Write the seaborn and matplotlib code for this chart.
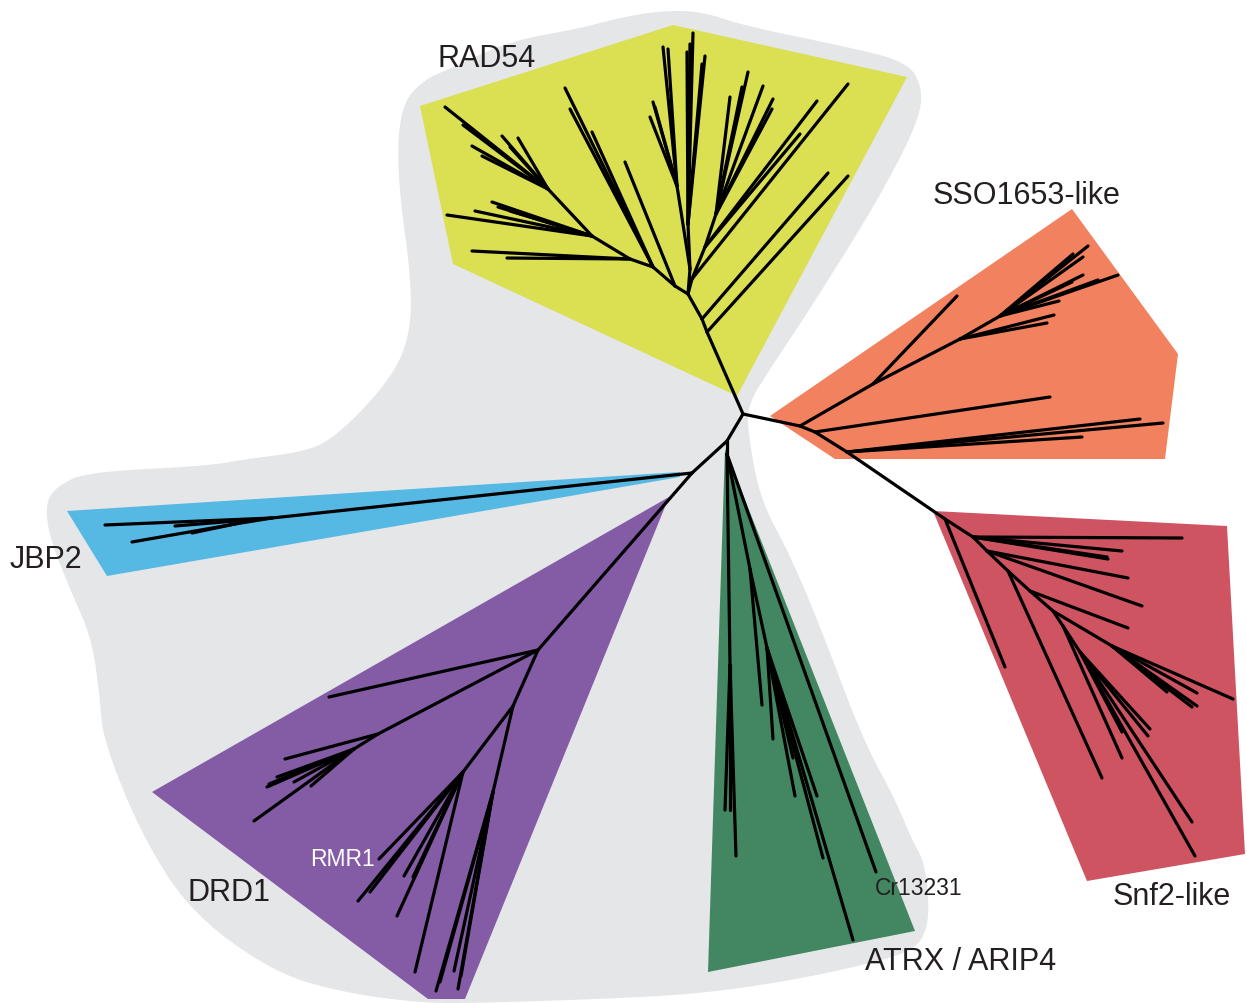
import numpy as np
import pandas as pd
import matplotlib
matplotlib.use("Agg")
import matplotlib.pyplot as plt
import seaborn as sns

# ---------------- data: unrooted tree (node, x, y, parent) in picture units ----------------
backbone_node = ["A", "B", "C", "S0"]
backbone_x = [743, 727, 692, 800]
backbone_y = [415, 442, 474, 427]
backbone_parent = [None, "A", "B", "A"]

rad54_node = ["Ra", "Rb", "R0", "ra1", "rb1",
              "L1", "L2", "L3", "L4", "L5", "l1",
              "l2a", "l2b", "l2c", "l3a", "l3b",
              "l4a", "l4b", "l4c", "l4d", "l4e",
              "l5a", "l5b", "l5c", "l5d", "l5e", "l5f", "l5g",
              "M0", "M1", "M2", "m1a", "m1b", "m1c", "m1d", "m1e",
              "m2a", "m2b", "m2c", "m2d", "m2e",
              "Q0", "Q1", "Q2", "q0a", "q1a", "q1b",
              "q2a", "q2b", "q2c", "q2d", "q2e", "q2f"]
rad54_x = [707, 702, 688, 848, 828,
           675, 653, 630, 592, 548, 625,
           565, 570, 592, 472, 507,
           447, 475, 492, 498, 510,
           445, 463, 472, 482, 502, 518, 510,
           690, 688, 677, 693, 690, 705, 702, 687,
           663, 668, 650, 653, 655,
           692, 705, 716, 848, 817, 800,
           748, 742, 730, 763, 773, 772]
rad54_y = [333, 320, 295, 177, 174,
           287, 268, 260, 237, 190, 163,
           89, 110, 133, 252, 259,
           216, 212, 203, 208, 212,
           108, 126, 147, 157, 137, 139, 148,
           270, 225, 187, 34, 45, 57, 65, 53,
           48, 50, 118, 103, 108,
           280, 248, 215, 85, 102, 135,
           73, 88, 98, 87, 100, 110]
rad54_parent = ["A", "Ra", "Rb", "Ra", "Rb",
                "R0", "L1", "L2", "L3", "L4", "L1",
                "L2", "L2", "L2", "L3", "L3",
                "L4", "L4", "L4", "L4", "L4",
                "L5", "L5", "L5", "L5", "L5", "L5", "L5",
                "R0", "M0", "M0", "M1", "M1", "M1", "M1", "M1",
                "M2", "M2", "M2", "M2", "M2",
                "R0", "Q0", "Q1", "Q0", "Q1", "Q1",
                "Q2", "Q2", "Q2", "Q2", "Q2", "Q2"]

sso_node = ["S1", "s1a", "S2", "s2a", "s2b", "S3",
            "s3a", "s3b", "s3c", "s3d", "s3e", "s3f", "s3g", "s3h",
            "S4", "s4a", "S5", "s5a", "s5b", "s5c"]
sso_x = [873, 957, 960, 1047, 1054, 1000,
         1088, 1083, 1073, 1083, 1118, 1098, 1059, 1072,
         815, 1050, 847, 1140, 1163, 1082]
sso_y = [385, 297, 340, 324, 316, 317,
         247, 258, 255, 276, 276, 281, 302, 283,
         433, 398, 453, 420, 424, 438]
sso_parent = ["S0", "S1", "S1", "S2", "S2", "S2",
              "S3", "S3", "S3", "S3", "S3", "S3", "S3", "S3",
              "S0", "S4", "S4", "S5", "S5", "S5"]

snf2_node = ["N0", "n0a", "N1", "n1a", "n1b", "n1c", "n1d", "N2", "n2a", "n2b",
             "N3", "n3a", "N4", "n4a", "N5", "N6", "n6a", "n6b", "n6c", "n6d", "n6e",
             "N7", "n7a", "N8", "n8a", "n8b", "n8c", "n8d", "n8e"]
snf2_x = [945, 1005, 973, 1182, 1122, 1108, 1107, 987, 1128, 1142,
          1008, 1102, 1030, 1128, 1053, 1112, 1233, 1197, 1197, 1192, 1167,
          1063, 1122, 1080, 1192, 1195, 1150, 1148, 1122]
snf2_y = [520, 668, 538, 539, 552, 560, 558, 552, 579, 607,
          572, 779, 592, 629, 612, 647, 700, 694, 707, 708, 693,
          627, 759, 653, 823, 857, 730, 737, 733]
snf2_parent = ["S5", "N0", "N0", "N1", "N1", "N1", "N1", "N1", "N2", "N2",
               "N2", "N3", "N3", "N4", "N4", "N5", "N6", "N6", "N6", "N6", "N6",
               "N5", "N7", "N7", "N8", "N8", "N8", "N8", "N8"]

atrx_node = ["G0", "G1", "g1a", "g1b", "g1c", "G2", "g2a", "G3",
             "g3a", "g3b", "g3c", "g3d", "g3e", "g3f", "cr13231"]
atrx_x = [727, 730, 725, 730, 736, 750, 762, 767,
          773, 793, 795, 817, 823, 853, 876]
atrx_y = [455, 666, 811, 811, 857, 570, 706, 649,
          740, 759, 797, 797, 859, 941, 873]
atrx_parent = ["B", "G0", "G1", "G1", "G1", "G0", "G2", "G2",
               "G3", "G3", "G3", "G3", "G3", "G3", "G0"]

jbp2_node = ["J1", "j1a", "j1b", "J2", "j2a", "j2b"]
jbp2_x = [272, 105, 175, 235, 132, 192]
jbp2_y = [519, 526, 527, 525, 543, 534]
jbp2_parent = ["C", "J1", "J1", "J1", "J2", "J2"]

drd1_node = ["D", "d0a", "D2", "D2a", "d2a", "d2b", "d2c", "d2d", "d2e", "d2f", "d2g",
             "D1", "D3", "d3a", "rmr1", "d3b", "d3c", "d3d", "d3e", "d3f",
             "D4", "d4a", "d4b", "d4c", "d4d", "d4e"]
drd1_x = [538, 329, 378, 354, 285, 269, 267, 277, 294, 311, 254,
          513, 463, 415, 379, 358, 370, 397, 404, 413,
          493, 458, 436, 440, 454, 461]
drd1_y = [651, 698, 735, 750, 760, 785, 788, 778, 783, 787, 822,
          707, 773, 973, 860, 902, 893, 917, 877, 878,
          793, 990, 992, 983, 972, 977]
drd1_parent = ["C", "D", "D", "D2", "D2", "D2a", "D2a", "D2a", "D2a", "D2a", "D2a",
               "D", "D1", "D3", "D3", "D3", "D3", "D3", "D3", "D3",
               "D1", "D4", "D4", "D4", "D4", "D4"]

# ---------------- clade shading ----------------
clade_names = ["RAD54", "SSO1653-like", "Snf2-like", "ATRX / ARIP4", "DRD1", "JBP2"]
clade_colors = ["#DAE052", "#F2825F", "#CE5461", "#438762", "#845BA5", "#55B9E3"]
rad54_hull_x = [420, 673, 907, 737, 453]
rad54_hull_y = [107, 26, 78, 397, 265]
sso_hull_x = [770, 1072, 1178, 1165, 835]
sso_hull_y = [417, 210, 355, 460, 460]
snf2_hull_x = [933, 1227, 1245, 1087]
snf2_hull_y = [512, 527, 855, 882]
atrx_hull_x = [725, 915, 708]
atrx_hull_y = [450, 932, 973]
drd1_hull_x = [669, 152, 428, 465]
drd1_hull_y = [498, 793, 1000, 1000]
jbp2_hull_x = [67, 680, 680, 107]
jbp2_hull_y = [512, 473, 478, 577]

bg_x = [420, 453, 510, 577, 623, 660, 700, 745, 843, 905, 922, 920, 877, 810, 770, 748,
        748, 760, 790, 820, 863, 895, 912, 924, 929, 927, 915, 880, 800, 700, 600, 480,
        420, 340, 273, 190, 140, 103, 100, 92, 70, 50, 45, 57, 87, 207, 247, 303, 333,
        380, 407, 413, 397, 400]
bg_y = [83, 68, 42, 30, 18, 12, 12, 27, 47, 62, 85, 120, 203, 310, 370, 405,
        434, 500, 556, 627, 741, 800, 841, 862, 902, 931, 950, 962, 980, 995, 1000, 1004,
        1004, 993, 973, 913, 833, 740, 700, 640, 590, 540, 505, 487, 473, 467, 460, 453, 440,
        393, 350, 293, 177, 110]

# label text, x, y, size, colour
label_text = ["RAD54", "SSO1653-like", "JBP2", "DRD1", "RMR1", "Cr13231", "ATRX / ARIP4", "Snf2-like"]
label_x = [438, 933, 10, 188, 310, 875, 865, 1113]
label_y = [59, 196, 560, 893, 860, 889, 962, 897]
label_size = [22, 22, 22, 22, 16.5, 16.5, 22, 22]
label_color = ["#231F20", "#231F20", "#231F20", "#231F20", "white", "#231F20", "#231F20", "#231F20"]

# ---------------- build segments ----------------
sns.set_theme(style="white")
plt.rcParams["font.family"] = ["Liberation Sans", "DejaVu Sans"]

groups = [(backbone_node, backbone_x, backbone_y, backbone_parent),
          (rad54_node, rad54_x, rad54_y, rad54_parent),
          (sso_node, sso_x, sso_y, sso_parent),
          (snf2_node, snf2_x, snf2_y, snf2_parent),
          (atrx_node, atrx_x, atrx_y, atrx_parent),
          (jbp2_node, jbp2_x, jbp2_y, jbp2_parent),
          (drd1_node, drd1_x, drd1_y, drd1_parent)]
pos = {}
edges = []
for names, xs, ys, parents in groups:
    for n, x, y, p in zip(names, xs, ys, parents):
        pos[n] = (x, y)
        if p is not None:
            edges.append((p, n))
rows = []
for i, (p, c) in enumerate(edges):
    rows.append({"seg": i, "order": 0, "x": pos[p][0], "y": pos[p][1]})
    rows.append({"seg": i, "order": 1, "x": pos[c][0], "y": pos[c][1]})
seg_df = pd.DataFrame(rows)


def chaikin(x, y, n=3):
    pts = np.column_stack([x, y]).astype(float)
    for _ in range(n):
        nxt = np.roll(pts, -1, axis=0)
        q = 0.75 * pts + 0.25 * nxt
        r = 0.25 * pts + 0.75 * nxt
        pts = np.empty((2 * len(q), 2))
        pts[0::2] = q
        pts[1::2] = r
    return pts[:, 0], pts[:, 1]


fig = plt.figure(figsize=(12.47, 10.04), dpi=100)
ax = fig.add_axes([0, 0, 1, 1])

sx, sy = chaikin(bg_x, bg_y, 4)
ax.fill(sx, sy, color="#E5E6E8", lw=0, zorder=0)

hulls = [(rad54_hull_x, rad54_hull_y), (sso_hull_x, sso_hull_y), (snf2_hull_x, snf2_hull_y),
         (atrx_hull_x, atrx_hull_y), (drd1_hull_x, drd1_hull_y), (jbp2_hull_x, jbp2_hull_y)]
for (hx, hy), col in zip(hulls, clade_colors):
    ax.fill(hx, hy, color=col, lw=0, zorder=1, joinstyle="round")

sns.lineplot(data=seg_df, x="x", y="y", units="seg", estimator=None, sort=False,
             color="black", lw=2.3, ax=ax, legend=False, zorder=3)

for t, x, y, s, c in zip(label_text, label_x, label_y, label_size, label_color):
    ax.text(x, y, t, fontsize=s, color=c, ha="left", va="center", zorder=4)

ax.set_xlim(0, 1247)
ax.set_ylim(1004, 0)
ax.set_axis_off()
fig.savefig("out.png", dpi=100, facecolor="white")
